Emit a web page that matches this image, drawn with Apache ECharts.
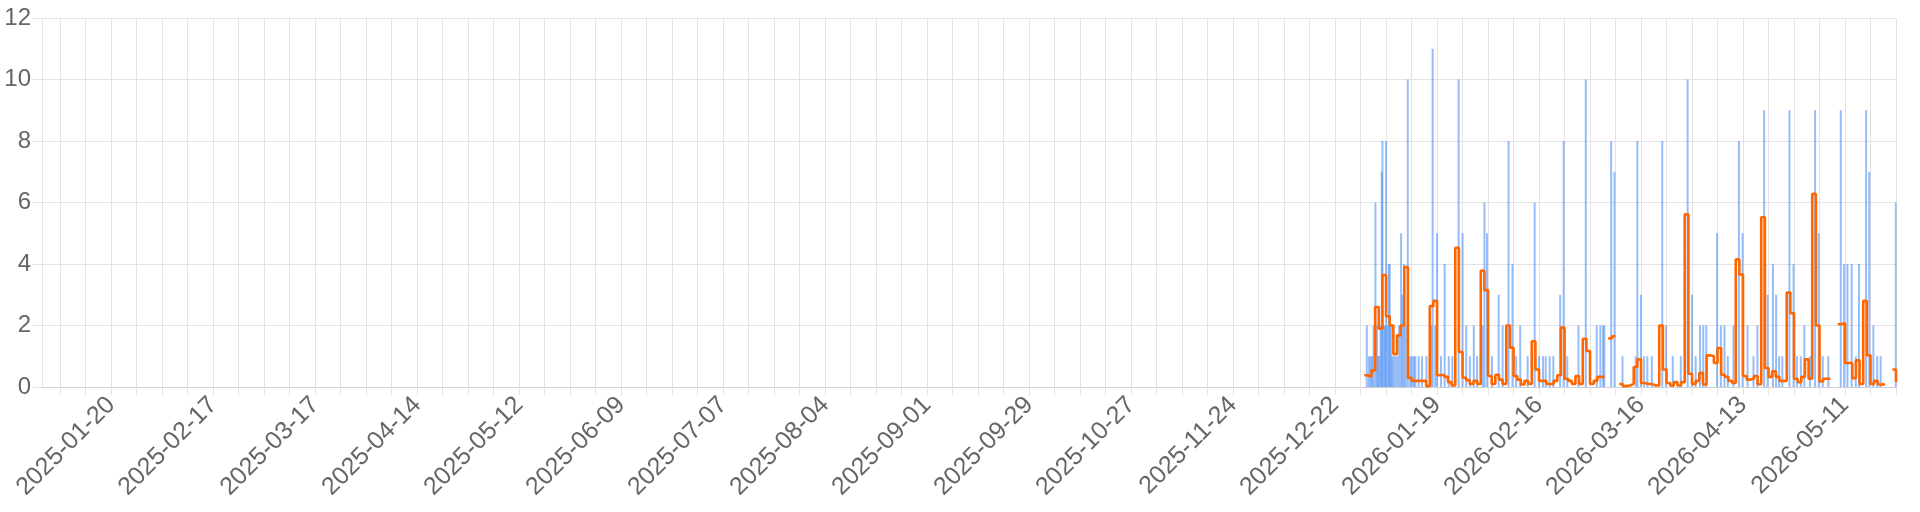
<!DOCTYPE html>
<html>
<head>
<meta charset="utf-8">
<script src="https://cdn.jsdelivr.net/npm/echarts@6/dist/echarts.min.js"></script>
<style>
html,body{margin:0;padding:0;background:#fff;}
#chart{width:1920px;height:512px;}
</style>
</head>
<body>
<div id="chart"></div>
<script>
// ---- data ----
const axisMin = '2025-01-01';
const axisMax = '2026-05-25';
const firstWeekTick = '2025-01-06';
const firstLabelTick = '2025-01-20';

// daily series (orange), consecutive days from this date; null = gap
const orangeStart = '2025-12-30';
const orangeValues = [
  0.38, 0.33, 0.54, 2.6, 1.9, 3.64, 2.3, 2.0, 1.07, 1.68, 2.0, 3.9, 0.3, 0.2, 0.2, 0.2, 0.2, 0.03,
  2.63, 2.8, 0.38, 0.4, 0.33, 0.16, 0.05, 4.53, 1.14, 0.3, 0.22, 0.1, 0.2, 0.1, 3.78, 3.15,
  0.36, 0.1, 0.4, 0.24, 0.1, 2.0, 1.28, 0.36, 0.24, 0.08, 0.2, 0.1, 1.49, 0.57, 0.2, 0.2, 0.1, 0.1,
  0.2, 0.38, 1.93, 0.27, 0.2, 0.1, 0.36, 0.1, 1.57, 1.17, 0.1, 0.2, 0.33, 0.33, null, 1.58, 1.65,
  null, 0.1, 0.03, 0.05, 0.1, 0.65, 0.9, 0.13, 0.1, 0.1, 0.05, 0.05, 2.0, 0.57, 0.13, 0.05, 0.16,
  0.05, 0.16, 5.62, 0.43, 0.1, 0.2, 0.46, 0.08, 1.03, 1.0, 0.78, 1.27, 0.4, 0.33, 0.2, 0.13, 4.15,
  3.66, 0.36, 0.24, 0.27, 0.36, 0.09, 5.52, 0.62, 0.33, 0.51, 0.33, 0.2, 0.2, 3.07, 2.4, 0.27, 0.16,
  0.33, 0.9, 0.27, 6.28, 2.0, 0.18, 0.27, 0.27, null, null, 2.04, 2.08, 0.78, 0.78, 0.29, 0.87, 0.1,
  2.8, 1.03, 0.1, 0.2, 0.08, 0.08, null, null, 0.57, 0.16
];

// spikes (blue): time (UTC 'YYYY-MM-DD HH') and value
const blueTimes = [
  '2025-12-30 17','2025-12-31 08','2025-12-31 19','2026-01-01 04','2026-01-01 14','2026-01-02 02','2026-01-02 12','2026-01-02 20',
  '2026-01-03 04','2026-01-03 12','2026-01-03 20','2026-01-04 00','2026-01-04 10','2026-01-04 18','2026-01-05 00','2026-01-05 10',
  '2026-01-05 18','2026-01-06 00','2026-01-06 08','2026-01-06 16','2026-01-07 02','2026-01-07 14','2026-01-08 02','2026-01-08 14',
  '2026-01-09 03','2026-01-09 12','2026-01-09 22','2026-01-10 10','2026-01-10 23','2026-01-11 14','2026-01-12 03','2026-01-12 16',
  '2026-01-13 01','2026-01-13 23','2026-01-14 21','2026-01-16 02','2026-01-17 10','2026-01-17 19','2026-01-18 12','2026-01-19 00',
  '2026-01-20 02','2026-01-21 02','2026-01-22 05','2026-01-23 05','2026-01-24 22','2026-01-26 00','2026-01-27 00','2026-01-28 00',
  '2026-01-29 02','2026-01-30 00','2026-01-31 12','2026-02-01 00','2026-02-01 17','2026-02-03 02',
  '2026-02-04 22','2026-02-06 00','2026-02-07 15','2026-02-08 17','2026-02-09 17','2026-02-10 20','2026-02-12 21','2026-02-14 19',
  '2026-02-16 00','2026-02-17 02','2026-02-17 20','2026-02-18 22','2026-02-19 22','2026-02-21 19','2026-02-22 18','2026-02-23 18',
  '2026-02-26 20','2026-02-28 20','2026-03-03 20','2026-03-04 20','2026-03-05 14','2026-03-05 22','2026-03-07 19','2026-03-08 17',
  '2026-03-10 22',
  '2026-03-14 13','2026-03-15 00','2026-03-16 00','2026-03-16 20','2026-03-17 18','2026-03-18 23','2026-03-21 20','2026-03-22 21',
  '2026-03-24 17','2026-03-26 22','2026-03-28 19','2026-03-30 00','2026-03-31 00','2026-04-01 05','2026-04-02 02','2026-04-02 22',
  '2026-04-05 21','2026-04-06 22','2026-04-07 22','2026-04-08 20','2026-04-10 09','2026-04-11 21','2026-04-12 21','2026-04-14 06',
  '2026-04-15 21','2026-04-16 23',
  '2026-04-18 19','2026-04-19 18','2026-04-21 05','2026-04-22 02','2026-04-22 22','2026-04-23 19','2026-04-25 18','2026-04-26 21',
  '2026-04-27 19','2026-04-28 21','2026-04-29 20','2026-05-01 09','2026-05-02 19','2026-05-03 19','2026-05-04 21','2026-05-06 10',
  '2026-05-09 20','2026-05-10 18','2026-05-11 16','2026-05-12 20','2026-05-13 23','2026-05-14 20','2026-05-16 19','2026-05-17 16',
  '2026-05-18 19','2026-05-19 20','2026-05-20 19','2026-05-24 23'
];
const blueValues = [
  2, 1, 1, 1, 2, 6, 2, 1,
  1, 2, 7, 8, 2, 2, 8, 2,
  4, 4, 2, 1, 1, 1, 1, 2,
  5, 3, 4, 2, 10, 1, 1, 1,
  1, 1, 1, 1, 2, 11, 2, 5,
  1, 4, 1, 1, 10, 5, 2, 1,
  2, 1, 2, 6, 5, 1,
  3, 2, 8, 4, 1, 2, 1, 6,
  1, 1, 1, 1, 1, 3, 8, 1,
  2, 10, 2, 2, 2, 2, 8, 7,
  1,
  1, 8, 3, 1, 1, 1, 8, 2,
  1, 1, 10, 3, 1, 2, 2, 2,
  5, 2, 2, 1, 2, 8, 5, 2,
  1, 2,
  9, 3, 4, 3, 1, 1, 9, 4,
  1, 1, 2, 1, 9, 5, 1, 1,
  9, 4, 4, 4, 1, 4, 9, 7,
  2, 1, 1, 6
];

// ---- helpers ----
const DAY = 86400000;
function ts(s) {
  const parts = s.split(' ');
  const d = parts[0].split('-').map(Number);
  const h = parts[1] ? Number(parts[1]) : 0;
  return Date.UTC(d[0], d[1] - 1, d[2], h);
}
function fmt(v) {
  const d = new Date(v);
  const p = n => (n < 10 ? '0' : '') + n;
  return d.getUTCFullYear() + '-' + p(d.getUTCMonth() + 1) + '-' + p(d.getUTCDate());
}
const minT = ts(axisMin), maxT = ts(axisMax);
const weekTicks = [];
for (let t = ts(firstWeekTick); t <= maxT; t += 7 * DAY) weekTicks.push(t);
const labelTicks = [];
for (let t = ts(firstLabelTick); t <= maxT; t += 28 * DAY) labelTicks.push(t);

// orange table (step 'end'); a run's last day is closed at the next day boundary
const o0 = ts(orangeStart);
const orangeData = [];
orangeValues.forEach((v, i) => {
  const t = o0 + i * DAY;
  orangeData.push([t, v]);
  const next = orangeValues[i + 1];
  if (v !== null && next === null) orangeData.push([t + DAY, v]);
});
const blueData = blueTimes.map((s, i) => [ts(s), blueValues[i]]);

const chart = echarts.init(document.getElementById('chart'), null, { renderer: 'canvas' });
const gridColor = '#e3e3e3';
const font = 'Liberation Sans, Arial, Helvetica, sans-serif';
chart.setOption({
  animation: false,
  backgroundColor: '#ffffff',
  grid: { left: 42, right: 24, top: 18, bottom: 125, containLabel: false },
  xAxis: {
    type: 'value',
    min: minT,
    max: maxT,
    axisLine: { show: true, lineStyle: { color: '#cfcfcf', width: 1 } },
    axisTick: { show: true, length: 8, customValues: weekTicks, lineStyle: { color: gridColor } },
    splitLine: { show: true, lineStyle: { color: gridColor, width: 1 } },
    axisLabel: {
      customValues: labelTicks,
      rotate: 45,
      margin: 14,
      fontSize: 25,
      color: '#666',
      fontFamily: font,
      formatter: v => fmt(v)
    }
  },
  yAxis: {
    type: 'value',
    min: 0,
    max: 12,
    interval: 2,
    axisLine: { show: true, lineStyle: { color: gridColor } },
    axisTick: { show: true, length: 10, lineStyle: { color: gridColor } },
    splitLine: { show: true, lineStyle: { color: gridColor } },
    axisLabel: {
      fontSize: 24,
      color: '#666',
      margin: 11,
      fontFamily: font
    }
  },
  series: [
    {
      type: 'bar',
      data: blueData,
      barWidth: 2,
      itemStyle: { color: 'rgba(80,145,245,0.6)' },
      z: 2
    },
    {
      type: 'line',
      data: orangeData,
      step: 'end',
      showSymbol: false,
      connectNulls: false,
      lineStyle: { color: '#ff6600', width: 2.6 },
      z: 3
    }
  ]
});
</script>
</body>
</html>
